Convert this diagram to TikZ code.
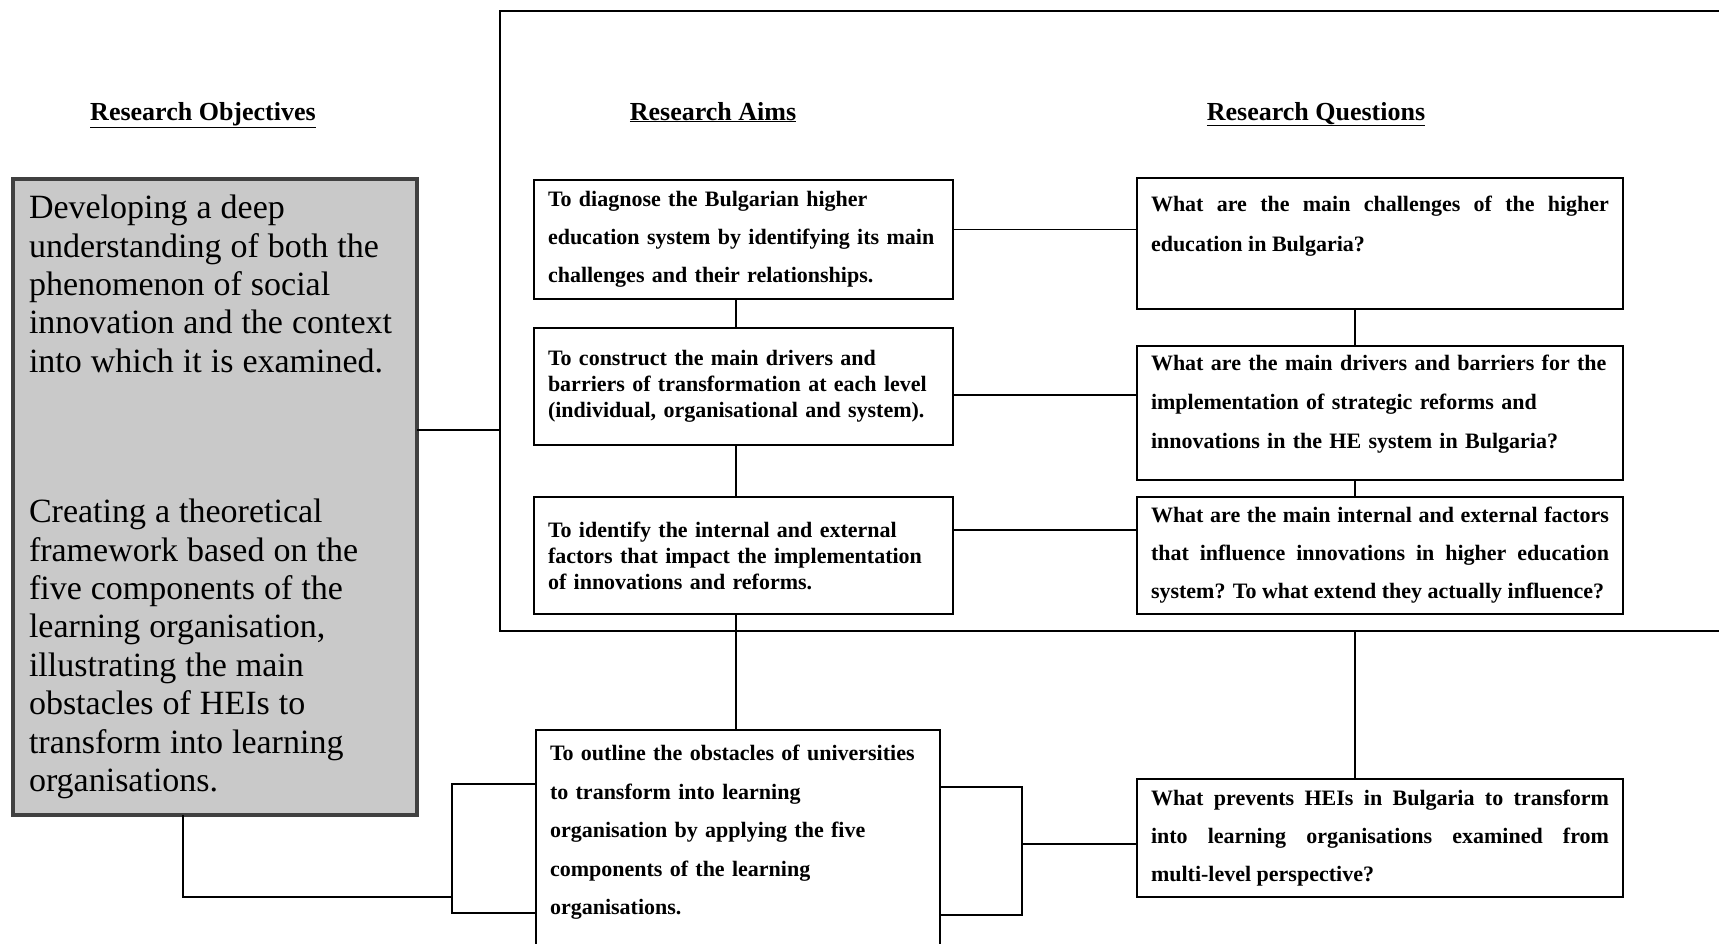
\documentclass[tikz,border=0pt]{standalone}
\usepackage{fontspec}
\setmainfont{Liberation Serif}
\usepackage{tikz}

\begin{document}
\begin{tikzpicture}
		[x=1pt,y=-1pt,
		 head/.style= {font=\bfseries\fontsize{26}{30}\selectfont,anchor=base},
		 box/.style= {draw=black,line width=2pt,anchor=north west,outer sep=0pt,
			inner xsep=14pt,inner ysep=0pt},
		 aim/.style= {box,text width=391pt,align=left,font=\bfseries\fontsize{22}{#1}\selectfont},
		 aim/.default=38.5,
		 rq/.style= {box,text width=458pt,align=justify,font=\bfseries\fontsize{22}{#1}\selectfont},
		 rq/.default=39,
		 obj/.style= {draw=black!75,line width=3.5pt,fill=black!21,anchor=north west,outer sep=0pt,
			inner xsep=16pt,inner ysep=0pt,text width=372pt,align=left,
			font=\fontsize{34}{38.4}\selectfont,
			execute at begin node={\spaceskip=9pt plus 2pt\relax}},
		 link/.style= {line width=1.8pt}]

		\useasboundingbox (0,0) rectangle (1719,943);
		\clip (0,0) rectangle (1719,943);

		\node[head] (hobj) at (203,120) {\underline{Research Objectives}};
		\node[head] (haim) at (713,120) {\underline{Research Aims}};
		\node[head] (hrq) at (1316,120) {\underline{Research Questions}};

		% objectives
		\node[obj,minimum height=636pt] (obj) at (13,179)
			{Developing a deep\\ understanding of both the\\ phenomenon of social\\
			 innovation and the context\\ into which it is examined.\\[112pt]
			 Creating a theoretical\\ framework based on the\\ five components of the\\
			 learning organisation,\\ illustrating the main\\ obstacles of HEIs to\\
			 transform into learning\\ organisations.}
		;

		% aims
		\node[aim=38,minimum height=119pt] (a1) at (534,180)
			{To diagnose the Bulgarian higher\\ education system by identifying its main\\
			 challenges and their relationships.}
		;
		\node[aim=26,minimum height=117pt] (a2) at (534,328)
			{To construct the main drivers and\\ barriers of transformation at each level\\
			 (individual, organisational and system).}
		;
		\node[aim=26,minimum height=117pt] (a3) at (534,497)
			{To identify the internal and external\\ factors that impact the implementation\\
			 of innovations and reforms.}
		;
		\node[aim,text width=376pt,minimum height=238pt] (a4) at (536,730)
			{To outline the obstacles of universities\\ to transform into learning\\
			 organisation by applying the five\\ components of the learning\\
			 organisations.\\ \mbox{}}
		;

		% questions
		\node[rq=39.5,minimum height=131pt] (q1) at (1137,178)
			{What are the main challenges of the higher\linebreak education in Bulgaria?\\ \mbox{}}
		;
		\node[rq,align=left,minimum height=134pt] (q2) at (1137,346)
			{What are the main drivers and barriers for the\\ implementation of strategic reforms and\\
			 innovations in the HE system in Bulgaria?\\[-16pt]\mbox{}}
		;
		\node[rq=38,minimum height=117pt] (q3) at (1137,497)
			{What are the main internal and external factors\linebreak that influence innovations in higher education\linebreak
			 system? To what extend they actually influence?}
		;
		\node[rq=38.4,minimum height=118pt] (q4) at (1137,779)
			{What prevents HEIs in Bulgaria to transform\linebreak into learning organisations examined from\linebreak
			 multi-level perspective?}
		;

		% frame round aims and questions
		\coordinate (ftl) at (500,11);
		\coordinate (fbl) at (500,631);
		\coordinate (ftr) at (1719,11);
		\coordinate (fbr) at (1719,631);
		\draw[link] (ftr) -- (ftl) -- (fbl) -- (fbr);

		\coordinate (fjoin) at (500,430);
		\draw[link] (obj.east |- fjoin) -- (fjoin);

		% aims to questions
		\coordinate (l1) at ([yshift=10pt]a1.east);
		\coordinate (l2) at ([yshift=-8.5pt]a2.east);
		\coordinate (l3) at ([yshift=25.5pt]a3.east);
		\draw[link] (l1) -- (l1 -| q1.west);
		\draw[link] (l2) -- (l2 -| q2.west);
		\draw[link] (l3) -- (l3 -| q3.west);

		% chain of aims
		\coordinate (sa) at ([xshift=-7.5pt]a1.south);
		\draw[link] (sa) -- (sa |- a2.north);
		\draw[link] (sa |- a2.south) -- (sa |- a3.north);
		\draw[link] (sa |- a3.south) -- (sa |- a4.north);

		% chain of questions
		\coordinate (sq) at ([xshift=-25pt]q1.south);
		\draw[link] (sq) -- (sq |- q2.north);
		\draw[link] (sq |- q2.south) -- (sq |- q3.north);
		\draw[link] (sq |- fbl) -- (sq |- q4.north);

		% brackets round the last aim
		\coordinate (lbt) at (452,784);
		\coordinate (lbm) at (452,897);
		\coordinate (lbb) at (452,913);
		\draw[link] (a4.west |- lbt) -- (lbt) -- (lbb) -- (a4.west |- lbb);
		\draw[link] ([xshift=-32pt]obj.south) |- (lbm);

		\coordinate (rbt) at (1022,787);
		\coordinate (rbm) at (1022,844);
		\coordinate (rbb) at (1022,915);
		\draw[link] (a4.east |- rbt) -- (rbt) -- (rbb) -- (a4.east |- rbb);
		\draw[link] (rbm) -- (rbm -| q4.west);

	\end{tikzpicture}
\end{document}
